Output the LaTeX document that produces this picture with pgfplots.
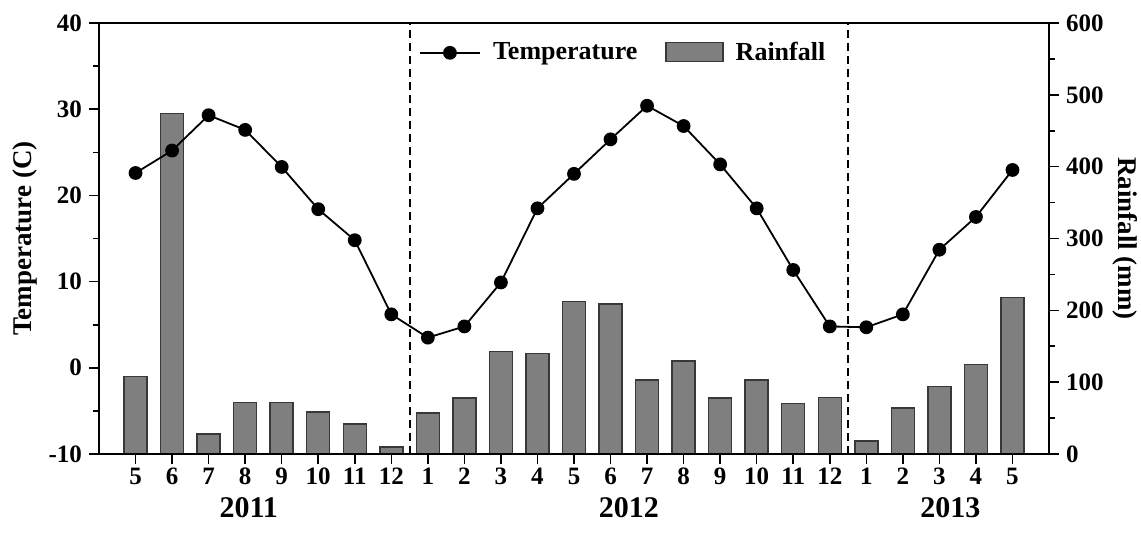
\documentclass[border=0pt]{standalone}
\usepackage{fontspec}
\setmainfont{Liberation Serif}
\usepackage{pgfplots}
\pgfplotsset{compat=1.18}
\definecolor{barfill}{HTML}{7F7F7F}
\definecolor{baredge}{HTML}{383838}
\begin{document}
\begin{tikzpicture}
\path[use as bounding box] (-49.5pt,-52pt) rectangle (521pt,227pt);
% Rainfall axis (right)
\begin{axis}[
  at={(0,0)}, anchor=south west,
  scale only axis, width=475pt, height=215.5pt,
  xmin=-1, xmax=25,
  ymin=0, ymax=600,
  axis x line=none,
  axis y line*=right,
  ytick={0,100,...,600},
  minor y tick num=1,
  tick align=outside,
  major tick length=5pt, minor tick length=3pt,
  every tick/.style={line width=0.8pt, black},
  axis line style={line width=1pt},
  /pgf/number format/assume math mode=true,
  tick label style={font=\fontsize{12.5}{14}\selectfont\bfseries},
  ylabel={Rainfall (mm)},
  ylabel style={at={(axis description cs:1.08,0.5)}, anchor=center, rotate=180, font=\fontsize{13.5}{15}\selectfont\bfseries},
  ybar, bar width=11.5pt,
]
\addplot[fill=barfill, draw=baredge, line width=0.7pt] coordinates {
(0,108) (1,474) (2,28) (3,71.5) (4,71.5) (5,58.5) (6,42) (7,10)
(8,57) (9,78) (10,142.5) (11,140) (12,212.5) (13,209) (14,103) (15,129.5)
(16,78) (17,103) (18,70) (19,79)
(20,18) (21,64) (22,94) (23,124.5) (24,217.5)};
\end{axis}
% Temperature axis (left)
\begin{axis}[
  at={(0,0)}, anchor=south west,
  scale only axis, width=475pt, height=215.5pt,
  xmin=-1, xmax=25,
  ymin=-10, ymax=40,
  xtick={0,...,24},
  xticklabels={5,6,7,8,9,10,11,12,1,2,3,4,5,6,7,8,9,10,11,12,1,2,3,4,5},
  ytick={-10,0,...,40},
  minor y tick num=1,
  xtick pos=bottom, ytick pos=left,
  tick align=outside,
  major tick length=5pt, minor tick length=3pt,
  every tick/.style={line width=0.8pt, black},
  axis line style={line width=1pt},
  /pgf/number format/assume math mode=true,
  tick label style={font=\fontsize{12.5}{14}\selectfont\bfseries},
  xticklabel style={yshift=1.5pt},
  ylabel={Temperature (C)},
  ylabel style={at={(axis description cs:-0.078,0.5)}, anchor=center, font=\fontsize{13.5}{15}\selectfont\bfseries},
  clip=false,
  legend columns=2,
  legend style={at={(axis description cs:0.33,0.975)}, anchor=north west, draw=none, fill=none,
    font=\fontsize{13}{15}\selectfont\bfseries,
    /tikz/every odd column/.append style={column sep=4pt},
    /tikz/every even column/.append style={column sep=12pt}},
]
\draw[line width=1pt, dash pattern=on 4pt off 2.5pt] (axis cs:7.5,-10) -- (axis cs:7.5,40);
\draw[line width=1pt, dash pattern=on 4pt off 2.5pt] (axis cs:19.5,-10) -- (axis cs:19.5,40);
\addplot[black, line width=0.9pt, mark=*, mark size=3pt,
  legend image code/.code={\draw[mark repeat=2,mark phase=2] plot coordinates {(0cm,0cm)(0.53cm,0cm)(1.06cm,0cm)};}]
coordinates {
(0,22.6) (1,25.2) (2,29.3) (3,27.6) (4,23.3) (5,18.4) (6,14.8) (7,6.2)
(8,3.5) (9,4.8) (10,9.9) (11,18.5) (12,22.5) (13,26.5) (14,30.4) (15,28.05)
(16,23.6) (17,18.5) (18,11.35) (19,4.8)
(20,4.7) (21,6.2) (22,13.7) (23,17.5) (24,22.95)};
\addlegendentry{Temperature}
\addlegendimage{legend image code/.code={\draw[fill=barfill, draw=baredge, line width=0.7pt] (0cm,-0.15cm) rectangle (1cm,0.18cm);}}
\addlegendentry{Rainfall}
\node[font=\fontsize{15}{17}\selectfont\bfseries] at (axis cs:3.1,-10) [yshift=-27pt] {2011};
\node[font=\fontsize{15}{17}\selectfont\bfseries] at (axis cs:13.5,-10) [yshift=-27pt] {2012};
\node[font=\fontsize{15}{17}\selectfont\bfseries] at (axis cs:22.3,-10) [yshift=-27pt] {2013};
\end{axis}
\end{tikzpicture}
\end{document}
